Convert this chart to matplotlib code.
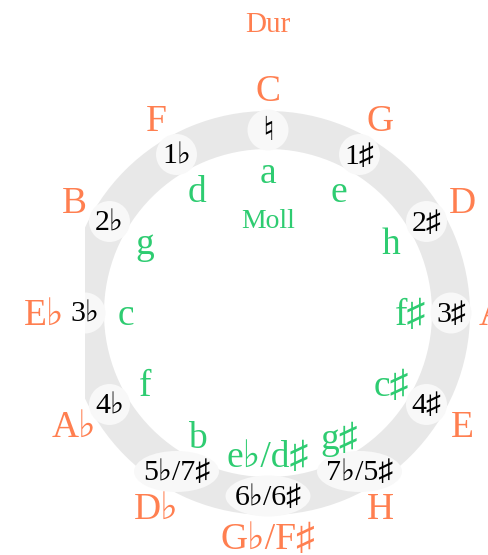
import numpy as np
import matplotlib
matplotlib.use("Agg")
import matplotlib.pyplot as plt
from matplotlib.patches import Wedge, Ellipse, Rectangle

# ---- data ----
major_keys = ["C", "G", "D", "A", "E", "H", "G♭/F♯", "D♭", "A♭", "E♭", "B", "F"]
minor_keys = ["a", "e", "h", "f♯", "c♯", "g♯", "e♭/d♯", "b", "f", "c", "g", "d"]
signatures = ["♮", "1♯", "2♯", "3♯", "4♯", "7♭/5♯", "6♭/6♯", "5♭/7♯", "4♭", "3♭", "2♭", "1♭"]
title_major = "Dur"
title_minor = "Moll"

# ---- style ----
ORANGE = "#FF7F50"
GREEN = "#2ECC71"
RING = "#E8E8E8"
BUBBLE = "#F8F8F8"
FONT = ["Liberation Serif", "DejaVu Serif"]

W, H = 488, 555
fig = plt.figure(figsize=(W / 100, H / 100), dpi=100)
ax = fig.add_axes([0, 0, 1, 1])
ax.set_xlim(0, W)
ax.set_ylim(H, 0)
ax.set_aspect("equal")
ax.axis("off")

cx, cy = 268, 313
r_out, r_in = 202, 164
r_mid = (r_out + r_in) / 2
r_major = 224
r_minor = 142
dy = 3  # small downward nudge so glyphs sit visually centred

clip = Rectangle((85, 0), W, H, transform=ax.transData, visible=False)
ax.add_patch(clip)

ring = Wedge((cx, cy), r_out, 0, 360, width=r_out - r_in, facecolor=RING, edgecolor="none")
ax.add_patch(ring)
ring.set_clip_path(clip)

n = len(major_keys)
for i in range(n):
    a = np.deg2rad(i * 360 / n)
    sx, sy = np.sin(a), -np.cos(a)
    bx, by = cx + r_mid * sx, cy + r_mid * sy
    wide = "/" in signatures[i]
    e = Ellipse((bx, by), 85 if wide else 41, 41, facecolor=BUBBLE, edgecolor="none")
    ax.add_patch(e)
    e.set_clip_path(clip)
    ax.text(bx, by + 2, signatures[i], ha="center", va="center",
            fontsize=24 if signatures[i] == "♮" else 21.5,
            color="black", family=FONT)
    ax.text(cx + r_major * sx, cy + r_major * sy + dy, major_keys[i], ha="center", va="center",
            fontsize=27, color=ORANGE, family=FONT)
    ax.text(cx + r_minor * sx, cy + r_minor * sy + dy, minor_keys[i], ha="center", va="center",
            fontsize=27, color=GREEN, family=FONT)

ax.text(cx, 22 + dy, title_major, ha="center", va="center", fontsize=21, color=ORANGE, family=FONT)
ax.text(cx, 218 + dy, title_minor, ha="center", va="center", fontsize=20, color=GREEN, family=FONT)

fig.savefig("out.png", dpi=100)
